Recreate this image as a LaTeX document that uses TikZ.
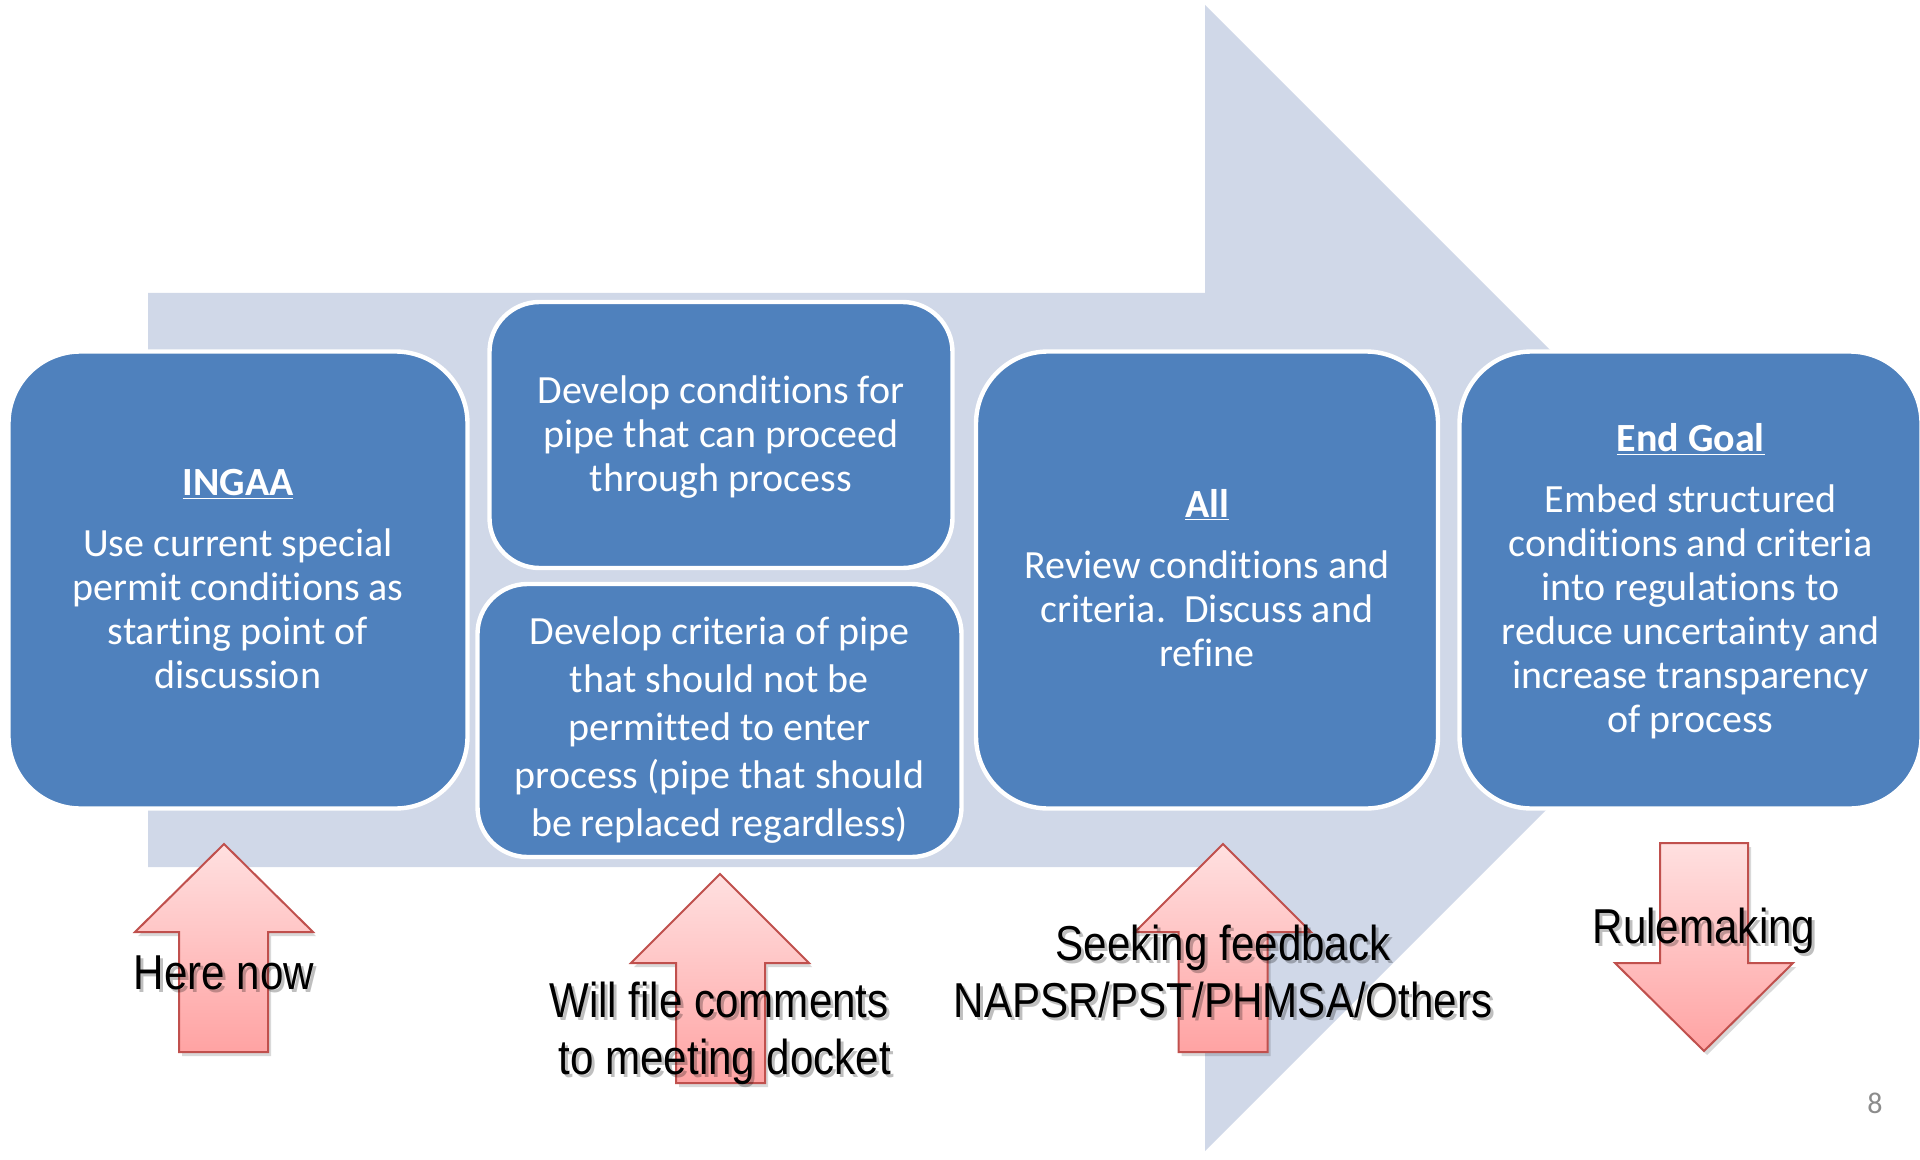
\documentclass[tikz,border=0pt]{standalone}
\usepackage{fontspec}
\setmainfont[Ligatures=NoCommon]{Carlito}
\newfontfamily\labelfont[FakeStretch=0.86]{Liberation Sans}
\definecolor{bigarrow}{HTML}{D0D8E8}
\definecolor{boxblue}{HTML}{4F81BD}
\definecolor{pinkedge}{HTML}{C0504D}
\definecolor{pinktop}{HTML}{FFE0E0}
\definecolor{pinkbot}{HTML}{FFA3A3}
\definecolor{pagegray}{HTML}{8C8C8C}
\begin{document}
\begin{tikzpicture}[x=0.5pt,y=0.5pt,
  bigbox/.style={draw=white, line width=2.2pt, fill=boxblue, rounded corners=36pt, inner sep=0pt},
  smallbox/.style={draw=white, line width=2.2pt, fill=boxblue, rounded corners=25pt, inner sep=0pt},
  boxtext/.style={text=white, anchor=base, inner sep=0pt, font=\fontsize{20}{22}\selectfont},
  boxtextwide/.style={text=white, anchor=base, inner sep=0pt, font=\fontsize{20}{24}\selectfont},
  pinkarrow/.style={draw=pinkedge, line width=1pt, top color=pinktop, bottom color=pinkbot, line join=miter},
  arrowshadow/.style={fill=black, opacity=0.15},
  lbl/.style={anchor=base, inner sep=0pt, text=black, font=\labelfont\fontsize{24.5}{28.5}\selectfont},
  lblshadow/.style={lbl, text=black, opacity=0.25}
]
\useasboundingbox (0,0) rectangle (1920,-1160);
\fill[white] (0,0) rectangle (1920,-1160);

% big background arrow
\fill[bigarrow] (148,-293) -- (1205,-293) -- (1205,-5) -- (1778,-578) -- (1205,-1151) -- (1205,-867) -- (148,-867) -- cycle;

% boxes
\node[bigbox, minimum width=229.5pt, minimum height=228.5pt] (b1) at (238,-580) {};
\node[smallbox, minimum width=231.5pt, minimum height=133pt] (b2) at (721,-435) {};
\node[smallbox, minimum width=242pt, minimum height=136.5pt] (b3) at (719.5,-720.5) {};
\node[bigbox, minimum width=231pt, minimum height=228.5pt] (b4) at (1207,-580) {};
\node[bigbox, minimum width=231pt, minimum height=228.5pt] (b5) at (1690.5,-580) {};

% box texts
\node[boxtext] (t1) at (238,-495) {\begin{tabular}[t]{@{}c@{}}\underline{\textbf{INGAA}}\\[8.5pt]
Use current special\\ permit conditions as\\ starting point of\\ discussion\end{tabular}};
\node[boxtext] (t2) at (721,-403) {\begin{tabular}[t]{@{}c@{}}Develop conditions for\\ pipe that can proceed\\ through process\end{tabular}};
\node[boxtextwide] (t3) at (719.5,-644.5) {\begin{tabular}[t]{@{}c@{}}Develop criteria of pipe\\ that should not be\\ permitted to enter\\ process (pipe that should\\ be replaced regardless)\end{tabular}};
\node[boxtext] (t4) at (1207,-517) {\begin{tabular}[t]{@{}c@{}}\underline{\textbf{All}}\\[8.5pt]
Review conditions and\\ criteria.\ \ Discuss and\\ refine\end{tabular}};
\node[boxtext] (t5) at (1690.5,-451) {\begin{tabular}[t]{@{}c@{}}\underline{\textbf{End Goal}}\\[8.5pt]
Embed structured\\ conditions and criteria\\ into regulations to\\ reduce uncertainty and\\ increase transparency\\ of process\end{tabular}};

% pink arrows: shadows
\fill[arrowshadow] (227,-848) -- (316,-936) -- (271,-936) -- (271,-1056) -- (182,-1056) -- (182,-936) -- (138,-936) -- cycle;
\fill[arrowshadow] (723,-878) -- (812,-967) -- (768,-967) -- (768,-1087) -- (679,-1087) -- (679,-967) -- (634,-967) -- cycle;
\fill[arrowshadow] (1226,-848) -- (1314,-936) -- (1270.5,-936) -- (1270.5,-1056) -- (1181.5,-1056) -- (1181.5,-936) -- (1138,-936) -- cycle;
\fill[arrowshadow] (1663,-847) -- (1751,-847) -- (1751,-967) -- (1796,-967) -- (1707,-1055) -- (1618,-967) -- (1663,-967) -- cycle;
% pink arrows
\path[pinkarrow] (224,-844) -- (313,-932) -- (268,-932) -- (268,-1052) -- (179,-1052) -- (179,-932) -- (135,-932) -- cycle;
\path[pinkarrow] (720,-874) -- (809,-963) -- (765,-963) -- (765,-1083) -- (676,-1083) -- (676,-963) -- (631,-963) -- cycle;
\path[pinkarrow] (1223,-844) -- (1311,-932) -- (1267.5,-932) -- (1267.5,-1052) -- (1178.5,-1052) -- (1178.5,-932) -- (1135,-932) -- cycle;
\path[pinkarrow] (1660,-843) -- (1748,-843) -- (1748,-963) -- (1793,-963) -- (1704,-1051) -- (1615,-963) -- (1660,-963) -- cycle;

% labels with shadows
\node[lblshadow] (s1) at (227,-992) {Here now};
\node[lbl] (l1) at (224,-989) {Here now};
\node[lblshadow] (s2) at (722,-1020) {\begin{tabular}[t]{@{}c@{}}Will file comments\\ \ to meeting docket\end{tabular}};
\node[lbl] (l2) at (719,-1017) {\begin{tabular}[t]{@{}c@{}}Will file comments\\ \ to meeting docket\end{tabular}};
\node[lblshadow] (s3) at (1226,-963) {\begin{tabular}[t]{@{}c@{}}Seeking feedback\\ NAPSR/PST/PHMSA/Others\end{tabular}};
\node[lbl] (l3) at (1223,-960) {\begin{tabular}[t]{@{}c@{}}Seeking feedback\\ NAPSR/PST/PHMSA/Others\end{tabular}};
\node[lblshadow] (s4) at (1707,-946) {Rulemaking};
\node[lbl] (l4) at (1704,-943) {Rulemaking};

% page number
\node[text=pagegray, inner sep=0pt, font=\fontsize{15}{18}\selectfont] (pg) at (1875,-1103) {8};
\end{tikzpicture}
\end{document}
